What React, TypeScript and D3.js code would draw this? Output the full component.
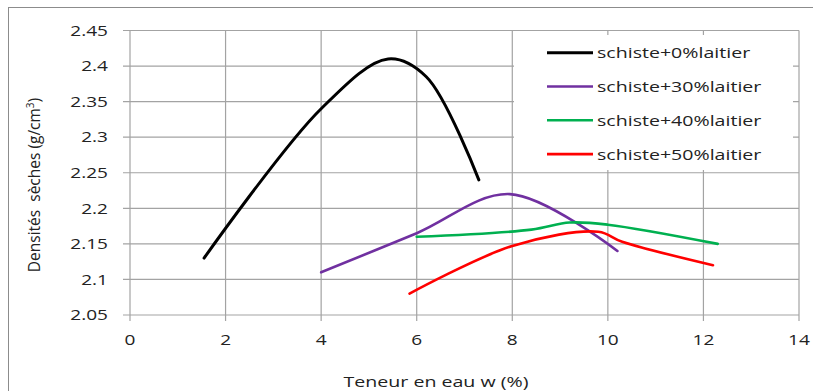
import React, { useEffect, useRef } from 'react'
import * as d3 from 'd3'

// values
const xTicks = [0, 2, 4, 6, 8, 10, 12, 14];
const yTicks = [2.05, 2.1, 2.15, 2.2, 2.25, 2.3, 2.35, 2.4, 2.45];
const yTickLabels = ['2.05', '2.1', '2.15', '2.2', '2.25', '2.3', '2.35', '2.4', '2.45'];

const seriesNames = ['schiste+0%laitier', 'schiste+30%laitier', 'schiste+40%laitier', 'schiste+50%laitier'];
const seriesColors = ['#000000', '#7030A0', '#00B050', '#FF0000'];

const w0 = [1.55, 4, 5.4, 6.2, 7.3];
const d0 = [2.13, 2.34, 2.41, 2.385, 2.24];
const w30 = [4, 6, 7.95, 10.2];
const d30 = [2.11, 2.165, 2.22, 2.14];
const w40 = [6, 8.4, 9.2, 10, 12.3];
const d40 = [2.16, 2.17, 2.18, 2.177, 2.15];
const w50 = [5.85, 8, 9.8, 10.3, 12.2];
const d50 = [2.08, 2.147, 2.167, 2.153, 2.12];

export default function App() {
  const ref = useRef<SVGSVGElement | null>(null);
  useEffect(() => {
    if (!ref.current) return;
    const svg = d3.select(ref.current);
    svg.selectAll('*').remove();
    const font = "'Open Sans', sans-serif";
    const txt = '#222';

    const x = d3.scaleLinear().domain([0, 14]).range([130, 799]);
    const y = d3.scaleLinear().domain([2.05, 2.45]).range([315, 30.5]);

    // frame (only left and top edges show)
    svg.append('line').attr('x1', 8.5).attr('x2', 8.5).attr('y1', 7).attr('y2', 391).attr('stroke', '#8c8c8c');
    svg.append('line').attr('x1', 8).attr('x2', 813).attr('y1', 7.5).attr('y2', 7.5).attr('stroke', '#8c8c8c');

    const grid = svg.append('g').attr('stroke', '#a3a3a3').attr('stroke-width', 1.2);
    yTicks.forEach(t => {
      grid.append('line').attr('x1', 123).attr('x2', x(14)).attr('y1', y(t)).attr('y2', y(t));
    });
    xTicks.forEach(t => {
      grid.append('line').attr('x1', x(t)).attr('x2', x(t)).attr('y1', y(2.45)).attr('y2', 321);
    });

    // tick labels
    yTicks.forEach((t, i) => {
      svg.append('text').text(yTickLabels[i])
        .attr('transform', `translate(108,${y(t) + 5.3}) scale(1.27,1)`)
        .attr('text-anchor', 'end').attr('font-family', font).attr('font-size', 15).attr('fill', txt);
    });
    xTicks.forEach(t => {
      svg.append('text').text(String(t))
        .attr('transform', `translate(${x(t)},344.5) scale(1.27,1)`)
        .attr('text-anchor', 'middle').attr('font-family', font).attr('font-size', 15).attr('fill', txt);
    });

    // axis titles
    svg.append('text').text('Teneur en eau w (%)')
      .attr('transform', 'translate(436,387) scale(1.4,1)')
      .attr('text-anchor', 'middle').attr('font-family', font).attr('font-size', 14).attr('fill', txt);
    const yt = svg.append('text')
      .attr('transform', 'translate(40,185) rotate(-90)')
      .attr('text-anchor', 'middle').attr('font-family', font).attr('font-size', 15.5).attr('fill', txt)
      .attr('xml:space', 'preserve');
    yt.append('tspan').text('Densités  sèches (g/cm');
    yt.append('tspan').text('3').attr('font-size', 10).attr('dy', -6);
    yt.append('tspan').text(')').attr('dy', 6);

    // series
    const series = [[w0, d0], [w30, d30], [w40, d40], [w50, d50]];
    const line = d3.line<[number, number]>().x(d => x(d[0])).y(d => y(d[1])).curve(d3.curveCatmullRom.alpha(0.5));
    series.forEach(([ws, ds], i) => {
      const pts = ws.map((v, j) => [v, ds[j]] as [number, number]);
      svg.append('path').attr('d', line(pts)).attr('fill', 'none')
        .attr('stroke', seriesColors[i]).attr('stroke-width', i === 0 ? 3 : 2.6).attr('stroke-linecap', 'round');
    });

    // legend
    svg.append('rect').attr('x', 514).attr('y', 35).attr('width', 279).attr('height', 135).attr('fill', '#fff');
    seriesNames.forEach((n, i) => {
      const cy = 52.7 + i * 33.8;
      svg.append('line').attr('x1', 547).attr('x2', 593).attr('y1', cy).attr('y2', cy)
        .attr('stroke', seriesColors[i]).attr('stroke-width', i === 0 ? 3 : 2.6);
      svg.append('text').text(n)
        .attr('transform', `translate(597,${cy + 5.5}) scale(1.35,1)`)
        .attr('font-family', font).attr('font-size', 14.5).attr('fill', txt);
    });
  }, []);
  return <svg ref={ref} width={813} height={391} style={{ position: 'absolute', left: 0, top: 0, background: '#fff' }} />;
}
